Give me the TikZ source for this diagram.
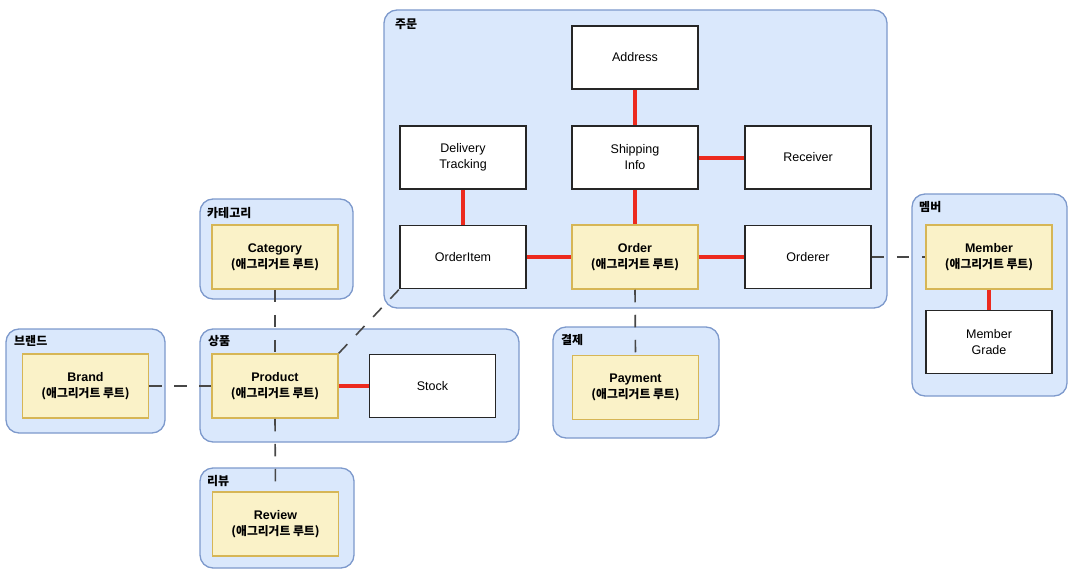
\documentclass[tikz,border=0pt]{standalone}
\usepackage{fontspec}
\setmainfont{Liberation Sans}
\newfontfamily\kr{Noto Sans CJK KR}
\definecolor{grpfill}{HTML}{DAE8FC}
\definecolor{grpdraw}{HTML}{7D99CC}
\definecolor{rootfill}{HTML}{FAF2C8}
\definecolor{rootdraw}{HTML}{D6B656}
\definecolor{redline}{HTML}{EC2A1E}
\definecolor{dashline}{HTML}{474747}
\tikzset{
  grp/.style={draw=grpdraw, fill=grpfill, line width=1.3pt, rounded corners=13pt, inner sep=0pt},
  grplabel/.style={anchor=west, inner sep=0pt, font=\kr\bfseries\fontsize{12}{14}\selectfont},
  entity/.style={draw=black!85, fill=white, line width=1.5pt, minimum width=126pt, minimum height=63pt,
    align=center, inner sep=0pt, font=\fontsize{12.5}{16}\selectfont},
  root/.style={draw=rootdraw, fill=rootfill, line width=1.5pt, minimum width=126pt, minimum height=64pt,
    align=center, inner sep=0pt, font=\fontsize{12.5}{16}\selectfont},
  comp/.style={draw=redline, line width=4pt},
  ref/.style={draw=dashline, line width=1.6pt, dash pattern=on 12.5pt off 12.5pt},
}
\newcommand{\aggroot}[1]{{\bfseries #1}\\{\kr\bfseries\fontsize{11.8}{16}\selectfont (애그리거트 루트)}}
\begin{document}
\begin{tikzpicture}[x=1pt,y=-1pt]
\useasboundingbox (0,0) rectangle (1075,578);
% groups
\node[grp, minimum width=503pt, minimum height=298pt] (gorder) at (635.5,159) {};
\node[grplabel] (lorder) at (395,24) {주문};
\node[grp, minimum width=153pt, minimum height=100pt] (gcat) at (276.5,249) {};
\node[grplabel] (lcat) at (207,213.5) {카테고리};
\node[grp, minimum width=159pt, minimum height=104pt] (gbrand) at (85.5,381) {};
\node[grplabel] (lbrand) at (14,341) {브랜드};
\node[grp, minimum width=319pt, minimum height=113pt] (gprod) at (359.5,385.5) {};
\node[grplabel] (lprod) at (208,341) {상품};
\node[grp, minimum width=154pt, minimum height=100pt] (grev) at (277,518) {};
\node[grplabel] (lrev) at (207,481.5) {리뷰};
\node[grp, minimum width=166pt, minimum height=111pt] (gpay) at (636,382.5) {};
\node[grplabel] (lpay) at (561,340) {결제};
\node[grp, minimum width=155pt, minimum height=202pt] (gmem) at (989.5,295) {};
\node[grplabel] (lmem) at (919,207) {멤버};
% entities
\node[entity] (address) at (635,57.5) {Address};
\node[entity] (delivery) at (463,157.5) {Delivery\\Tracking};
\node[entity] (shipping) at (635,157.5) {Shipping\\Info};
\node[entity] (receiver) at (808,157.5) {Receiver};
\node[entity] (orderitem) at (463,257) {OrderItem};
\node[root] (order) at (635,257) {\aggroot{Order}};
\node[entity] (orderer) at (808,257) {Orderer};
\node[root] (category) at (275,257) {\aggroot{Category}};
\node[root] (brand) at (85.5,386) {\aggroot{Brand}};
\node[root] (product) at (275,386) {\aggroot{Product}};
\node[entity] (stock) at (432.5,386) {Stock};
\node[root] (review) at (275.5,524) {\aggroot{Review}};
\node[root] (payment) at (635.5,387.5) {\aggroot{Payment}};
\node[root] (member) at (989,257) {\aggroot{Member}};
\node[entity] (grade) at (989,342) {Member\\Grade};
% composition links
\draw[comp] (address.south) -- (shipping.north);
\draw[comp] (shipping.east) -- (receiver.west);
\draw[comp] (shipping.south) -- (order.north);
\draw[comp] (delivery.south) -- (orderitem.north);
\draw[comp] (orderitem.east) -- (order.west);
\draw[comp] (order.east) -- (orderer.west);
\draw[comp] (member.south) -- (grade.north);
\draw[comp] (product.east) -- (stock.west);
% references between aggregates
\draw[ref] (category.south) -- (product.north);
\draw[ref] (brand.east) -- (product.west);
\draw[ref] (product.south) -- (review.north);
\draw[ref] (product.north east) -- (orderitem.south west);
\draw[ref] (order.south) -- (payment.north);
\draw[ref] (orderer.east) -- (member.west);
\end{tikzpicture}
\end{document}
